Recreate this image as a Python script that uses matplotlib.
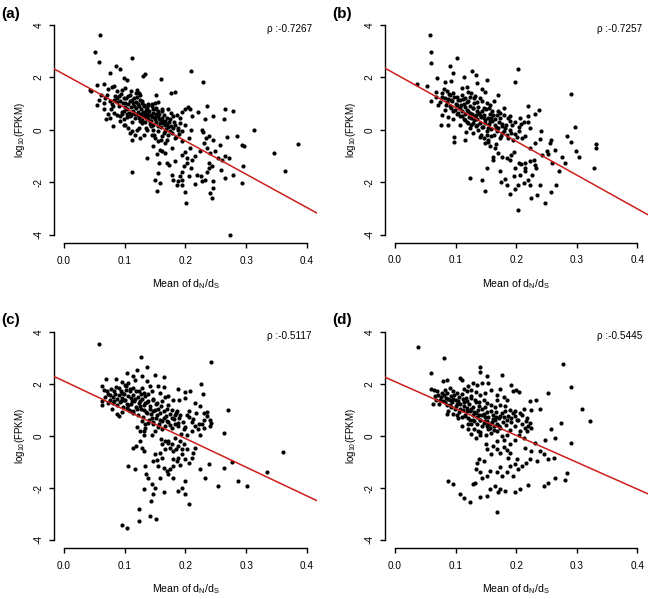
import matplotlib
matplotlib.use("Agg")
import matplotlib.pyplot as plt

plt.rcParams["font.family"] = ["Liberation Sans", "DejaVu Sans"]
plt.rcParams["mathtext.fontset"] = "custom"
plt.rcParams["mathtext.rm"] = "Liberation Sans"
plt.rcParams["mathtext.it"] = "Liberation Sans:italic"
plt.rcParams["axes.unicode_minus"] = False

# ---- data (mean dN/dS, log10 FPKM) ----
a_x = [0.059, 0.051, 0.058, 0.112, 0.086, 0.092, 0.076, 0.099, 0.103, 0.130, 0.134, 0.159, 0.209, 0.228,
       0.044, 0.043, 0.054, 0.055, 0.057, 0.061, 0.065, 0.066, 0.066, 0.073, 0.079, 0.083, 0.087, 0.096,
       0.101, 0.110, 0.120, 0.123, 0.125, 0.176, 0.182, 0.151, 0.079, 0.082, 0.087, 0.090, 0.092, 0.098,
       0.101, 0.105, 0.108, 0.112, 0.116, 0.118, 0.121, 0.125, 0.129, 0.132, 0.136, 0.139, 0.145, 0.147,
       0.150, 0.154, 0.152, 0.155, 0.161, 0.165, 0.169, 0.172, 0.176, 0.180, 0.186, 0.191, 0.195, 0.199,
       0.204, 0.208, 0.210, 0.221, 0.235, 0.265, 0.279, 0.264, 0.232, 0.246, 0.077, 0.083, 0.088, 0.095,
       0.099, 0.103, 0.109, 0.114, 0.117, 0.121, 0.125, 0.128, 0.134, 0.136, 0.140, 0.142, 0.145, 0.150,
       0.154, 0.158, 0.162, 0.166, 0.171, 0.173, 0.179, 0.183, 0.175, 0.188, 0.191, 0.194, 0.199, 0.166,
       0.161, 0.154, 0.147, 0.143, 0.135, 0.128, 0.123, 0.117, 0.112, 0.106, 0.101, 0.098, 0.092, 0.081,
       0.076, 0.069, 0.112, 0.125, 0.132, 0.145, 0.150, 0.155, 0.166, 0.169, 0.161, 0.158, 0.147, 0.136,
       0.153, 0.166, 0.177, 0.183, 0.194, 0.205, 0.209, 0.208, 0.199, 0.194, 0.202, 0.210, 0.216, 0.224,
       0.227, 0.228, 0.230, 0.233, 0.239, 0.235, 0.241, 0.246, 0.249, 0.257, 0.254, 0.260, 0.265, 0.269,
       0.271, 0.285, 0.293, 0.297, 0.312, 0.294, 0.293, 0.278, 0.265, 0.259, 0.243, 0.238, 0.238, 0.235,
       0.232, 0.227, 0.225, 0.219, 0.216, 0.209, 0.205, 0.202, 0.197, 0.194, 0.191, 0.188, 0.186, 0.194,
       0.199, 0.201, 0.183, 0.173, 0.169, 0.157, 0.154, 0.150, 0.153, 0.158, 0.177, 0.180, 0.194, 0.246,
       0.245, 0.241, 0.244, 0.112, 0.345, 0.385, 0.363, 0.274]
a_y = [3.62, 2.97, 2.59, 2.75, 2.43, 2.31, 2.18, 1.99, 1.89, 2.07, 2.14, 1.96, 2.24, 1.81,
       1.50, 1.54, 1.73, 0.94, 1.16, 1.35, 1.03, 0.78, 1.76, 1.57, 1.63, 1.67, 1.48, 1.54,
       1.58, 1.50, 1.54, 1.39, 1.35, 1.40, 1.44, 1.35, 0.97, 1.16, 1.22, 1.29, 1.12, 1.22,
       1.03, 1.29, 1.12, 1.16, 1.22, 1.07, 0.97, 1.16, 1.03, 0.94, 0.84, 0.99, 0.91, 0.78,
       1.03, 1.07, 0.84, 0.71, 0.71, 0.56, 0.46, 0.78, 0.65, 0.52, 0.56, 0.46, 0.68, 0.78,
       0.87, 0.78, 0.55, 0.69, 0.91, 0.78, 0.71, 0.40, 0.43, 0.55, 0.78, 0.65, 0.56, 0.59,
       0.74, 0.61, 0.52, 0.65, 0.46, 0.56, 0.36, 0.52, 0.65, 0.46, 0.56, 0.33, 0.48, 0.40,
       0.52, 0.27, 0.36, 0.20, 0.10, 0.29, 0.08, 0.18, -0.05, 0.08, 0.27, -0.05, 0.20, -0.05,
       -0.24, -0.05, 0.01, 0.14, 0.08, 0.27, 0.08, -0.18, -0.05, 0.08, 0.20, 0.40, 0.33, 0.14,
       0.46, 0.43, -0.37, -0.31, -0.18, -0.18, -0.31, -0.43, -0.50, -0.37, -0.82, -0.75, -0.62, -1.07,
       -0.91, -0.88, -0.69, -0.31, -0.43, -0.31, 0.01, -0.69, -0.84, -0.94, -1.07, -1.13, -1.01, -0.82,
       0.01, -0.08, -0.50, -0.31, -0.24, -0.69, -0.88, -0.37, -0.79, -0.59, -1.07, -1.13, -1.01, -0.25,
       -1.07, -0.24, -0.59, -0.60, 0.01, -1.39, -2.03, -1.71, -1.84, -1.52, -1.39, -1.26, -1.45, -1.61,
       -1.90, -1.96, -1.77, -1.71, -2.07, -1.45, -1.77, -1.26, -1.39, -1.61, -1.77, -1.96, -2.09, -2.09,
       -2.35, -2.79, -1.20, -1.33, -1.26, -1.26, -1.64, -1.90, -2.32, -2.03, -1.71, -1.90, -1.90, -1.96,
       -2.22, -2.41, -2.60, -1.62, -0.89, -0.535, -1.57, -4.01]
# dense core of panel (a), estimated
a_core_x = [0.084, 0.088, 0.091, 0.094, 0.096, 0.097, 0.100, 0.102, 0.104, 0.105, 0.107, 0.108, 0.110, 0.111,
            0.113, 0.114, 0.116, 0.117, 0.119, 0.120, 0.122, 0.123, 0.124, 0.126, 0.127, 0.129, 0.130, 0.131,
            0.133, 0.134, 0.135, 0.137, 0.138, 0.140, 0.141, 0.143, 0.144, 0.146, 0.147, 0.149, 0.151, 0.152,
            0.154, 0.156, 0.157, 0.159, 0.161, 0.163, 0.164, 0.166, 0.168, 0.170, 0.172, 0.174, 0.176, 0.178,
            0.181, 0.184, 0.187, 0.190, 0.092, 0.103, 0.112, 0.118, 0.128, 0.139, 0.145, 0.150, 0.162, 0.080,
            0.075, 0.070, 0.068, 0.072, 0.098, 0.108, 0.120, 0.136, 0.148, 0.160]
a_core_y = [1.30, 1.05, 0.92, 1.38, 0.70, 1.02, 0.88, 1.20, 0.78, 0.98, 0.66, 1.34, 0.86, 0.58,
            1.02, 0.74, 0.92, 0.62, 0.82, 1.26, 0.70, 0.44, 0.90, 0.62, 0.80, 0.38, 0.70, 0.90,
            0.54, 0.30, 0.76, 0.60, 0.42, 0.72, 0.22, 0.58, 0.36, 0.64, 0.18, 0.50, 0.30, 0.60,
            0.14, 0.40, 0.62, 0.10, 0.44, 0.28, -0.12, 0.34, 0.02, 0.24, -0.20, 0.40, 0.16, -0.10,
            0.30, -0.28, 0.00, -0.16, 0.54, 0.50, 0.30, 1.40, 1.10, 0.96, 1.00, 0.80, 0.78, 0.90,
            1.10, 1.35, 1.20, 0.62, 0.20, -0.10, -0.02, -0.02, -0.20, -0.38]

b_x = [0.057, 0.060, 0.059, 0.102, 0.090, 0.203, 0.198, 0.290, 0.151, 0.134, 0.127, 0.095, 0.113, 0.070,
       0.082, 0.093, 0.052, 0.110, 0.118, 0.126, 0.136, 0.143, 0.148, 0.170, 0.163, 0.180, 0.219, 0.237,
       0.231, 0.220, 0.206, 0.212, 0.223, 0.297, 0.283, 0.290, 0.241, 0.240, 0.258, 0.256, 0.264, 0.275,
       0.280, 0.259, 0.298, 0.303, 0.250, 0.231, 0.229, 0.231, 0.223, 0.242, 0.214, 0.214, 0.204, 0.198,
       0.192, 0.196, 0.190, 0.184, 0.177, 0.170, 0.162, 0.165, 0.157, 0.154, 0.159, 0.149, 0.146, 0.142,
       0.173, 0.176, 0.184, 0.190, 0.193, 0.198, 0.204, 0.209, 0.214, 0.223, 0.220, 0.208, 0.186, 0.190,
       0.179, 0.173, 0.168, 0.160, 0.155, 0.151, 0.146, 0.140, 0.136, 0.131, 0.124, 0.121, 0.115, 0.110,
       0.107, 0.102, 0.096, 0.091, 0.085, 0.080, 0.077, 0.088, 0.093, 0.060, 0.067, 0.071, 0.084, 0.082,
       0.077, 0.076, 0.088, 0.098, 0.098, 0.115, 0.124, 0.129, 0.135, 0.137, 0.121, 0.115, 0.110, 0.104,
       0.099, 0.093, 0.102, 0.107, 0.113, 0.118, 0.124, 0.129, 0.135, 0.140, 0.146, 0.148, 0.143, 0.154,
       0.157, 0.159, 0.165, 0.170, 0.177, 0.181, 0.132, 0.126, 0.151, 0.162, 0.151, 0.124, 0.143, 0.148,
       0.173, 0.175, 0.182, 0.184, 0.190, 0.197, 0.198, 0.203, 0.206, 0.212, 0.208, 0.214, 0.220, 0.223,
       0.226, 0.232, 0.225, 0.234, 0.239, 0.247, 0.258, 0.266, 0.270, 0.203, 0.253, 0.037, 0.331, 0.331,
       0.329]
b_y = [3.63, 2.97, 2.56, 2.74, 2.42, 2.33, 1.82, 1.36, 1.91, 2.10, 2.23, 2.17, 2.00, 1.98,
       1.82, 1.87, 1.66, 1.59, 1.62, 1.40, 1.78, 1.57, 1.44, 1.34, 1.11, 0.83, 0.92, 0.76,
       0.60, 0.51, 0.45, 0.29, 0.06, 0.09, -0.25, -0.45, -0.06, -0.36, -0.38, -0.51, -0.76, -1.02,
       -1.27, -1.27, -0.80, -1.05, -0.80, -0.51, -1.15, -1.34, -1.19, -0.96, -1.27, -1.47, -1.27, -1.44,
       -0.96, -0.83, -1.15, -1.08, -1.02, -0.89, -1.02, -0.68, -0.60, -0.45, -0.25, -0.51, -0.32, -0.19,
       -0.32, -0.13, -0.19, 0.00, 0.19, -0.17, -0.06, -0.32, -0.25, -0.70, 0.29, 0.22, 0.45, 0.51,
       0.55, 0.64, 0.55, 0.70, 0.83, 1.02, 0.85, 1.21, 1.06, 1.21, 1.27, 1.11, 1.21, 1.34,
       1.15, 1.27, 1.40, 1.34, 1.47, 1.57, 1.27, 1.19, 1.15, 1.11, 1.27, 0.96, 0.96, 0.76,
       0.57, 0.17, 0.19, -0.29, -0.47, -0.38, 0.06, 0.25, 0.19, 0.00, 0.25, 0.38, 0.51, 0.64,
       0.76, 0.83, 0.93, 0.83, 0.98, 0.76, 0.64, 0.83, 0.70, 0.55, 0.45, 0.25, 0.09, 0.06,
       0.32, 0.45, 0.19, 0.06, 0.13, 0.06, 0.51, 0.45, -0.19, -1.15, -1.47, -1.85, -1.91, -2.33,
       -1.59, -1.98, -1.87, -2.10, -2.46, -1.78, -2.26, -2.10, -1.72, -2.04, -1.31, -1.59, -1.91, -2.10,
       -1.72, -1.47, -2.59, -2.49, -2.10, -2.80, -2.36, -2.10, -1.59, -3.06, -0.93, 1.74, -0.55, -0.68,
       -1.44]
b_core_x = [0.082, 0.086, 0.089, 0.091, 0.094, 0.096, 0.098, 0.100, 0.102, 0.104, 0.105, 0.107, 0.109, 0.110,
            0.112, 0.113, 0.115, 0.116, 0.118, 0.119, 0.121, 0.122, 0.124, 0.125, 0.127, 0.128, 0.130, 0.131,
            0.133, 0.134, 0.136, 0.137, 0.139, 0.140, 0.142, 0.143, 0.145, 0.146, 0.148, 0.150, 0.151, 0.153,
            0.155, 0.156, 0.158, 0.160, 0.162, 0.163, 0.165, 0.167, 0.169, 0.171, 0.173, 0.175, 0.177, 0.180,
            0.183, 0.186, 0.189, 0.192, 0.195, 0.198, 0.201, 0.205, 0.078, 0.074, 0.068, 0.087, 0.095, 0.108,
            0.117, 0.128, 0.141, 0.154, 0.166, 0.120, 0.132, 0.144, 0.157, 0.170]
b_core_y = [1.22, 1.05, 1.38, 0.90, 1.10, 0.72, 1.25, 0.98, 0.62, 1.12, 0.84, 0.52, 0.96, 0.70,
            1.18, 0.40, 0.86, 0.60, 1.05, 0.30, 0.72, 0.48, 0.92, 0.20, 0.62, 0.82, 0.36, 1.02,
            0.56, 0.14, 0.40, 0.88, 0.66, 0.26, 0.48, 0.72, 0.10, 0.58, 0.38, 0.80, -0.06, 0.46,
            0.22, 0.62, 0.02, 0.34, 0.56, -0.18, 0.40, 0.10, -0.04, 0.30, 0.44, -0.22, 0.24, -0.06,
            0.18, -0.30, 0.34, -0.12, -0.40, 0.30, -0.26, 0.12, 1.40, 1.05, 1.45, 0.50, 0.40, 0.18,
            -0.10, -0.12, -0.28, -0.40, -0.55, 1.45, 1.28, 1.10, 0.95, 0.70]

c_x = [0.057, 0.127, 0.136, 0.120, 0.103, 0.114, 0.128, 0.150, 0.165, 0.069, 0.086, 0.096, 0.101, 0.106,
       0.117, 0.136, 0.142, 0.154, 0.164, 0.188, 0.199, 0.208, 0.226, 0.228, 0.242, 0.062, 0.065, 0.070,
       0.076, 0.083, 0.090, 0.095, 0.102, 0.109, 0.113, 0.123, 0.128, 0.132, 0.145, 0.158, 0.166, 0.172,
       0.179, 0.190, 0.199, 0.216, 0.224, 0.230, 0.235, 0.241, 0.242, 0.230, 0.227, 0.210, 0.205, 0.202,
       0.191, 0.186, 0.177, 0.171, 0.161, 0.153, 0.147, 0.139, 0.134, 0.125, 0.117, 0.112, 0.106, 0.099,
       0.094, 0.087, 0.081, 0.073, 0.063, 0.063, 0.079, 0.087, 0.090, 0.095, 0.103, 0.109, 0.114, 0.120,
       0.125, 0.131, 0.136, 0.142, 0.147, 0.153, 0.158, 0.164, 0.169, 0.175, 0.182, 0.188, 0.197, 0.202,
       0.210, 0.216, 0.221, 0.224, 0.177, 0.183, 0.145, 0.139, 0.134, 0.128, 0.125, 0.131, 0.134, 0.147,
       0.150, 0.155, 0.162, 0.166, 0.172, 0.177, 0.183, 0.191, 0.197, 0.202, 0.194, 0.188, 0.180, 0.175,
       0.166, 0.161, 0.158, 0.150, 0.147, 0.153, 0.161, 0.155, 0.164, 0.169, 0.175, 0.180, 0.179, 0.187,
       0.194, 0.199, 0.205, 0.210, 0.216, 0.212, 0.191, 0.186, 0.125, 0.128, 0.131, 0.113, 0.118, 0.105,
       0.117, 0.134, 0.135, 0.139, 0.131, 0.145, 0.147, 0.143, 0.150, 0.158, 0.164, 0.172, 0.179, 0.188,
       0.194, 0.199, 0.205, 0.199, 0.224, 0.232, 0.239, 0.254, 0.264, 0.263, 0.270, 0.277, 0.286, 0.301,
       0.123, 0.124, 0.142, 0.152, 0.096, 0.103, 0.360, 0.335]
c_y = [3.54, 3.03, 2.68, 2.55, 2.43, 2.30, 2.30, 2.36, 2.27, 2.21, 2.21, 2.08, 1.98, 2.04,
       2.17, 2.11, 1.92, 1.92, 1.88, 1.83, 1.70, 1.75, 2.01, 1.62, 2.85, 1.95, 1.79, 1.72,
       1.60, 1.72, 1.85, 1.66, 1.79, 1.72, 1.85, 1.75, 1.85, 1.66, 1.72, 1.66, 1.49, 1.53,
       1.40, 1.40, 1.47, 1.28, 1.15, 0.89, 0.93, 0.64, 0.51, 0.64, 0.45, 0.55, 0.73, 0.83,
       0.83, 0.96, 1.02, 1.19, 1.34, 1.28, 1.44, 1.37, 1.28, 1.37, 1.44, 1.34, 1.21, 1.40,
       1.34, 1.21, 1.28, 1.28, 1.37, 1.19, 1.06, 0.86, 0.78, 0.93, 1.09, 0.98, 0.89, 1.06,
       1.15, 1.02, 0.89, 1.06, 0.96, 0.83, 0.64, 0.70, 0.57, 0.42, 0.47, 0.38, 0.26, 0.06,
       0.19, 0.38, 0.26, 0.06, 0.70, 0.83, 0.70, 0.51, 0.45, 0.57, 0.19, 0.06, 0.32, 0.45,
       0.19, 0.34, 0.26, -0.17, -0.19, -0.32, -0.06, -0.17, -0.32, -0.51, -0.51, -0.38, -0.57, -0.45,
       -0.51, -0.32, -0.64, -0.68, -0.96, -0.93, -0.86, -1.15, -1.21, -1.34, -1.28, -1.15, -0.89, -0.83,
       -0.70, -0.89, -1.02, -0.83, -0.45, -0.64, -1.11, -0.96, -0.19, -0.45, -0.57, -0.47, -0.38, -1.15,
       -1.28, -1.15, -1.47, -1.60, -2.04, -1.85, -2.24, -2.49, -1.98, -1.60, -2.17, -1.47, -1.60, -2.11,
       -1.98, -2.24, -2.62, -1.72, -1.28, -1.60, -1.09, -1.92, -1.21, 0.13, 1.02, -0.98, -1.72, -1.92,
       -2.81, -3.28, -3.07, -3.19, -3.41, -3.55, -0.60, -1.38]
c_core_x = [0.068, 0.072, 0.075, 0.078, 0.080, 0.082, 0.084, 0.086, 0.088, 0.090, 0.092, 0.093, 0.095, 0.097,
            0.098, 0.100, 0.102, 0.103, 0.105, 0.107, 0.108, 0.110, 0.111, 0.113, 0.114, 0.116, 0.118, 0.119,
            0.121, 0.122, 0.124, 0.126, 0.127, 0.129, 0.130, 0.132, 0.134, 0.135, 0.137, 0.139, 0.140, 0.142,
            0.144, 0.146, 0.147, 0.149, 0.151, 0.152, 0.154, 0.156, 0.158, 0.160, 0.162, 0.164, 0.166, 0.168,
            0.170, 0.172, 0.175, 0.178, 0.181, 0.184, 0.187, 0.190, 0.193, 0.196, 0.200, 0.205, 0.212, 0.218,
            0.222, 0.230, 0.236, 0.240, 0.120, 0.132, 0.145, 0.160, 0.172, 0.185]
c_core_y = [1.50, 1.62, 1.40, 1.82, 1.50, 1.35, 1.62, 1.90, 1.45, 1.60, 1.30, 1.75, 1.48, 1.12,
            1.62, 1.40, 1.92, 1.22, 1.55, 1.02, 1.80, 1.48, 1.25, 1.60, 0.95, 1.35, 1.72, 1.12,
            1.50, 0.80, 1.28, 1.62, 1.05, 1.42, 0.72, 1.20, 1.55, 0.92, 1.30, 1.62, 0.62, 1.15,
            0.85, 1.40, 0.55, 1.00, 1.22, 0.70, 1.05, 0.45, 0.88, 1.15, 0.60, 0.98, 0.40, 0.78,
            1.05, 0.55, 0.85, 0.30, 0.65, 0.90, 0.50, 0.70, 0.10, 0.55, 0.35, 0.95, 0.65, 0.90,
            0.48, 0.30, 0.78, 0.40, 0.35, 0.20, 0.05, -0.10, -0.25, -0.50]

d_x = [0.038, 0.081, 0.059, 0.277, 0.141, 0.140, 0.176, 0.107, 0.110, 0.079, 0.085, 0.152, 0.143, 0.136,
       0.121, 0.128, 0.154, 0.192, 0.199, 0.205, 0.253, 0.060, 0.064, 0.071, 0.077, 0.082, 0.091, 0.096,
       0.102, 0.113, 0.118, 0.126, 0.133, 0.140, 0.148, 0.158, 0.168, 0.179, 0.184, 0.195, 0.173, 0.168,
       0.223, 0.232, 0.239, 0.224, 0.212, 0.206, 0.198, 0.190, 0.181, 0.173, 0.165, 0.158, 0.151, 0.146,
       0.139, 0.132, 0.125, 0.118, 0.112, 0.104, 0.096, 0.090, 0.084, 0.079, 0.073, 0.068, 0.063, 0.085,
       0.093, 0.101, 0.107, 0.113, 0.118, 0.125, 0.130, 0.137, 0.143, 0.148, 0.152, 0.157, 0.154, 0.161,
       0.166, 0.173, 0.180, 0.185, 0.192, 0.198, 0.203, 0.209, 0.216, 0.220, 0.225, 0.217, 0.212, 0.205,
       0.198, 0.190, 0.184, 0.176, 0.169, 0.163, 0.172, 0.085, 0.103, 0.104, 0.110, 0.115, 0.124, 0.129,
       0.136, 0.140, 0.146, 0.152, 0.121, 0.125, 0.126, 0.137, 0.140, 0.133, 0.150, 0.152, 0.158, 0.162,
       0.169, 0.173, 0.179, 0.184, 0.190, 0.187, 0.198, 0.201, 0.203, 0.209, 0.216, 0.223, 0.234, 0.239,
       0.245, 0.253, 0.262, 0.264, 0.273, 0.258, 0.247, 0.231, 0.225, 0.214, 0.195, 0.184, 0.190, 0.173,
       0.176, 0.168, 0.157, 0.152, 0.146, 0.139, 0.135, 0.133, 0.140, 0.143, 0.132, 0.128, 0.157, 0.165,
       0.173, 0.181, 0.170, 0.198, 0.206, 0.220, 0.245, 0.253, 0.264, 0.280, 0.283, 0.152, 0.140, 0.124,
       0.113, 0.107, 0.088, 0.096, 0.169, 0.308, 0.321, 0.290, 0.291]
d_y = [3.45, 3.00, 2.43, 2.78, 2.66, 2.49, 2.36, 2.23, 2.15, 2.11, 2.15, 2.30, 2.04, 1.98,
       1.94, 2.04, 2.04, 1.98, 1.76, 1.69, 1.66, 1.81, 1.79, 1.60, 1.66, 1.79, 1.85, 1.72,
       1.66, 1.81, 1.72, 1.79, 1.69, 1.60, 1.66, 1.76, 1.60, 1.51, 1.38, 1.72, 1.81, 1.40,
       1.34, 1.40, 1.05, 1.02, 1.05, 0.89, 0.96, 1.02, 1.15, 1.21, 1.12, 1.21, 1.28, 1.38,
       1.30, 1.40, 1.47, 1.34, 1.43, 1.34, 1.43, 1.38, 1.47, 1.34, 1.25, 1.40, 1.25, 1.21,
       1.12, 1.17, 1.05, 1.15, 0.96, 1.05, 0.92, 1.02, 0.83, 0.74, 0.57, 0.45, 0.26, 0.66,
       0.74, 0.77, 0.74, 0.64, 0.70, 0.79, 0.64, 0.45, 0.57, 0.38, 0.32, 0.19, -0.06, 0.06,
       -0.13, -0.32, 0.03, 0.00, 0.19, 0.38, 0.38, 0.87, 0.83, 0.70, 0.74, 0.77, 0.64, 0.61,
       0.74, 0.64, 0.51, 0.38, 0.26, 0.10, 0.45, 0.19, 0.03, -0.06, -0.32, -0.51, -0.70, -0.38,
       -0.49, -0.64, -0.41, -0.54, -0.66, -0.83, -1.09, -0.89, -1.28, -1.15, -1.02, -0.89, -0.96, -0.57,
       -0.70, -0.87, -0.83, -0.06, 0.49, 0.28, -0.13, -0.28, -0.57, -0.45, -1.53, -1.40, -1.15, -1.17,
       -1.53, -1.40, -1.34, -1.53, -0.96, -0.87, -1.05, -1.28, -1.40, -1.63, -1.79, -1.85, -2.04, -1.92,
       -2.02, -2.11, -2.17, -2.15, -2.04, -1.89, -1.92, -1.81, -1.63, -1.69, -1.43, -2.30, -2.36, -2.55,
       -2.40, -2.23, -1.72, -1.85, -2.91, 1.03, 0.58, 1.90, -0.28]
d_core_x = [0.066, 0.070, 0.074, 0.076, 0.080, 0.083, 0.086, 0.088, 0.090, 0.092, 0.094, 0.097, 0.099, 0.100,
            0.102, 0.105, 0.106, 0.108, 0.110, 0.112, 0.114, 0.116, 0.117, 0.119, 0.121, 0.122, 0.124, 0.126,
            0.128, 0.129, 0.131, 0.133, 0.134, 0.136, 0.138, 0.139, 0.141, 0.143, 0.144, 0.146, 0.148, 0.149,
            0.151, 0.153, 0.154, 0.156, 0.158, 0.160, 0.161, 0.163, 0.165, 0.167, 0.169, 0.171, 0.174, 0.176,
            0.178, 0.181, 0.183, 0.186, 0.189, 0.192, 0.195, 0.198, 0.202, 0.206, 0.210, 0.214, 0.218, 0.222,
            0.140, 0.150, 0.159, 0.168, 0.180, 0.120, 0.110, 0.130, 0.096, 0.087]
d_core_y = [1.55, 1.72, 1.38, 1.52, 1.58, 1.30, 1.65, 1.45, 1.20, 1.55, 1.32, 1.60, 1.05, 1.38,
            1.25, 1.52, 0.92, 1.22, 1.62, 1.02, 1.30, 0.80, 1.48, 1.10, 0.70, 1.25, 0.95, 1.55,
            0.82, 1.12, 0.58, 1.30, 0.90, 0.48, 1.15, 0.80, 0.62, 1.05, 0.40, 0.85, 0.60, 1.12,
            0.92, 0.48, 0.75, 0.30, 0.95, 0.55, 0.80, 0.22, 0.62, 0.92, 0.48, 0.68, 0.32, 0.88,
            0.55, 0.95, 0.42, 0.78, 0.25, 0.55, 0.88, 0.40, 0.62, 0.18, 0.80, 0.30, 0.70, 0.52,
            0.15, 0.05, 0.12, -0.20, -0.15, 0.48, 0.40, 0.28, 0.85, 0.98]

panel_labels = ["(a)", "(b)", "(c)", "(d)"]
rho_values = ["-0.7267", "-0.7257", "-0.5117", "-0.5445"]
fit_intercepts = [2.12, 2.14, 2.12, 2.10]
fit_slopes = [-12.7, -12.9, -11.06, -10.36]
x_ticks = [0.0, 0.1, 0.2, 0.3, 0.4]
y_ticks = [4, 2, 0, -2, -4]

series = [(a_x + a_core_x, a_y + a_core_y), (b_x + b_core_x, b_y + b_core_y),
          (c_x + c_core_x, c_y + c_core_y), (d_x + d_core_x, d_y + d_core_y)]

W, H = 650, 599
fig = plt.figure(figsize=(6.5, 5.99), dpi=100, facecolor="white")

# axes boxes in pixels: left, top, right, bottom
boxes = [(54, 16.6, 317, 243.3), (385, 16.6, 647.5, 243.0),
         (54, 324.0, 317, 548.3), (385, 324.0, 647.5, 548.3)]
letter_pos = [(1, 14), (332, 14), (1, 320), (332, 320)]

for i, (xs, ys) in enumerate(series):
    l, t, r, b = boxes[i]
    ax = fig.add_axes([l / W, 1 - b / H, (r - l) / W, (b - t) / H])
    ax.scatter(xs, ys, s=9, c="black", linewidths=0, zorder=3)
    ax.axline((0, fit_intercepts[i]), slope=fit_slopes[i], color="#cc1f1a", lw=1.1, zorder=4)

    ax.set_xlim(-0.0165, 0.4165)
    ax.set_ylim(-4.32, 4.32)
    for side in ("top", "right"):
        ax.spines[side].set_visible(False)
    ax.spines["left"].set_bounds(-4, 4)
    ax.spines["bottom"].set_bounds(0, 0.4)
    for side in ("left", "bottom"):
        ax.spines[side].set_linewidth(1.0)

    ax.set_xticks(x_ticks)
    ax.set_xticklabels([f"{v:.1f}" for v in x_ticks])
    ax.set_yticks(y_ticks)
    ax.set_yticklabels([str(v) for v in y_ticks], rotation=90, va="center")
    ax.tick_params(axis="both", direction="out", length=3.4, width=1.0, labelsize=7.2)
    ax.tick_params(axis="x", pad=5.5)
    ax.tick_params(axis="y", pad=4)

    ax.set_xlabel(r"Mean of d$_\mathrm{N}$/d$_\mathrm{S}$", fontsize=7.6, va="center")
    ax.xaxis.set_label_coords(0.5, -41 / (b - t))
    ax.set_ylabel(r"log$_{10}$(FPKM)", fontsize=7, va="center")
    ax.yaxis.set_label_coords(-34 / (r - l), 0.5)

    ax.text(0.98, 0.945, "ρ :" + rho_values[i], transform=ax.transAxes,
            ha="right", va="center", fontsize=7.2)

    lx, ly = letter_pos[i]
    fig.text(lx / W, 1 - ly / H, panel_labels[i], ha="left", va="center",
             fontsize=11, fontweight="bold")

fig.savefig("out.png", dpi=100, facecolor="white")
